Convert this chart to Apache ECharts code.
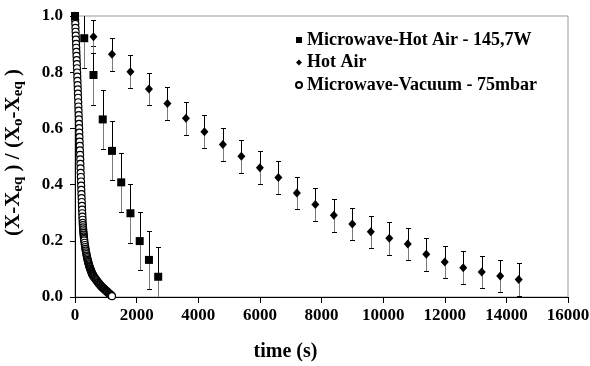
<!DOCTYPE html>
<html>
<head>
<meta charset="utf-8">
<script src="https://cdn.jsdelivr.net/npm/echarts@6/dist/echarts.min.js"></script>
<style>
html,body{margin:0;padding:0;background:#fff;}
#chart{width:590px;height:366px;}
</style>
</head>
<body>
<div id="chart"></div>
<script>
// ---- Data ----
var seriesNames = ['Microwave-Hot Air - 145,7W', 'Hot Air', 'Microwave-Vacuum - 75mbar'];

// Microwave-Hot Air - 145,7W (squares)
var mhaTime = [0, 300, 600, 900, 1200, 1500, 1800, 2100, 2400, 2700];
var mhaValue = [1.000, 0.921, 0.790, 0.632, 0.520, 0.408, 0.298, 0.199, 0.132, 0.072];
var mhaErr = [0, 0.107, 0.105, 0.105, 0.105, 0.105, 0.105, 0.104, 0.104, 0.105];

// Hot Air (diamonds)
var haTime = [0, 600, 1200, 1800, 2400, 3000, 3600, 4200, 4800, 5400, 6000, 6600, 7200, 7800,
  8400, 9000, 9600, 10200, 10800, 11400, 12000, 12600, 13200, 13800, 14400];
var haValue = [1.000, 0.926, 0.864, 0.802, 0.740, 0.689, 0.636, 0.588, 0.543, 0.501, 0.460, 0.425,
  0.370, 0.329, 0.291, 0.260, 0.232, 0.209, 0.189, 0.152, 0.125, 0.104, 0.089, 0.075, 0.062];
var haErr = [0, 0.058, 0.058, 0.058, 0.058, 0.058, 0.058, 0.058, 0.058, 0.058, 0.058, 0.058,
  0.058, 0.058, 0.058, 0.058, 0.058, 0.058, 0.058, 0.058, 0.058, 0.058, 0.058, 0.058, 0.058];

// Microwave-Vacuum - 75mbar (open circles)
var mvTime = [0,5,10,15,20,25,30,35,40,45,50,55,60,65,70,75,80,85,90,95,100,105,110,115,120,125,130,135,140,145,
  150,155,160,165,170,175,180,185,190,195,200,205,210,215,220,225,230,235,240,245,250,255,260,265,270,275,280,285,290,295,300,
  310,320,330,340,350,360,370,380,390,400,410,420,430,440,450,460,470,480,490,500,510,520,530,540,550,560,570,580,590,600,
  620,640,660,680,700,720,740,760,780,800,820,840,860,880,900,920,940,960,980,1000,1020,1040,1060,1080,1100,1120,1140,1160,1180,1200];
var mvValue = [1.000,0.986,0.972,0.958,0.944,0.930,0.916,0.901,0.887,0.872,0.858,0.843,0.829,0.814,0.799,0.784,0.769,0.754,0.739,0.724,
  0.709,0.693,0.678,0.663,0.647,0.632,0.616,0.601,0.585,0.569,0.553,0.538,0.522,0.506,0.490,0.474,0.458,0.442,0.427,0.411,
  0.396,0.381,0.366,0.352,0.338,0.324,0.311,0.298,0.286,0.275,0.264,0.256,0.248,0.241,0.234,0.228,0.222,0.216,0.211,0.206,0.201,
  0.193,0.185,0.178,0.171,0.165,0.159,0.153,0.147,0.142,0.137,0.132,0.128,0.124,0.120,0.116,0.112,0.108,0.105,0.102,0.099,
  0.096,0.093,0.090,0.087,0.084,0.082,0.080,0.078,0.076,0.074,
  0.071,0.068,0.065,0.062,0.059,0.056,0.053,0.050,0.047,0.045,0.042,0.040,0.037,0.035,0.033,0.031,0.029,0.027,0.025,0.023,
  0.021,0.019,0.017,0.015,0.013,0.011,0.009,0.007,0.005,0.003];

var xTicks = {min: 0, max: 16000, interval: 2000};
var yTicks = {min: 0, max: 1, interval: 0.2};

// ---- Build ----
function zip(a, b, c) {
  var out = [];
  for (var i = 0; i < a.length; i++) out.push(c ? [a[i], b[i], c[i]] : [a[i], b[i]]);
  return out;
}
function errRender(params, api) {
  var x = api.value(0), y = api.value(1), e = api.value(2);
  if (!e) return null;
  var c = api.coord([x, y]);
  var t = api.coord([x, y + e]);
  var b = api.coord([x, y - e]);
  var px = Math.round(c[0]) + 0.5;
  var ty = Math.round(t[1]) + 0.5, by = Math.round(b[1]) + 0.5, cy = c[1];
  var hw = 2.5;
  return {
    type: 'group',
    children: [
      {type: 'line', shape: {x1: px, y1: ty, x2: px, y2: cy}, style: {stroke: '#000', lineWidth: 1}},
      {type: 'line', shape: {x1: px, y1: cy, x2: px, y2: by}, style: {stroke: '#7a7a7a', lineWidth: 1}},
      {type: 'line', shape: {x1: px - hw, y1: ty, x2: px + hw, y2: ty}, style: {stroke: '#000', lineWidth: 1}},
      {type: 'line', shape: {x1: px - hw, y1: by, x2: px + hw, y2: by}, style: {stroke: '#000', lineWidth: 1}}
    ]
  };
}

var serif = '"Liberation Serif", "DejaVu Serif", serif';
var chart = echarts.init(document.getElementById('chart'), null, {renderer: 'canvas'});
chart.setOption({
  animation: false,
  backgroundColor: '#fff',
  grid: {left: 75, right: 22, top: 16, bottom: 69, show: true, borderColor: '#999', borderWidth: 1,
    containLabel: false, outerBoundsMode: 'none'},
  legend: {
    orient: 'vertical', left: 290, top: 26,
    itemWidth: 6, itemHeight: 6, itemGap: 4.5,
    data: seriesNames,
    textStyle: {fontFamily: serif, fontWeight: 'bold', fontSize: 18, lineHeight: 18, color: '#000'}
  },
  xAxis: {
    type: 'value', min: xTicks.min, max: xTicks.max, interval: xTicks.interval,
    name: 'time (s)', nameLocation: 'middle', nameGap: 45,
    nameTextStyle: {fontFamily: serif, fontWeight: 'bold', fontSize: 20, color: '#000', padding: [0, 72, 0, 0]},
    axisLine: {lineStyle: {color: '#000', width: 1}},
    axisTick: {show: true, length: 6, lineStyle: {color: '#000'}},
    axisLabel: {fontFamily: serif, fontWeight: 'bold', fontSize: 17, color: '#000', margin: 10,
      formatter: function (v) { return String(v); }},
    splitLine: {show: false}
  },
  yAxis: {
    type: 'value', min: yTicks.min, max: yTicks.max, interval: yTicks.interval,
    name: '{n|(X-X}{s|eq}{n| ) / (X}{s|o}{n|-X}{s|eq}{n| )}', nameLocation: 'middle', nameGap: 49, nameRotate: 90,
    nameTextStyle: {
      fontFamily: serif, fontWeight: 'bold', fontSize: 21, color: '#000', padding: [0, 0, 0, 8],
      rich: {
        n: {fontFamily: serif, fontWeight: 'bold', fontSize: 21, color: '#000', lineHeight: 24, verticalAlign: 'middle'},
        s: {fontFamily: serif, fontWeight: 'bold', fontSize: 15, color: '#000', lineHeight: 24, verticalAlign: 'bottom', padding: [8, 0, 0, 0]}
      }
    },
    axisLine: {show: true, lineStyle: {color: '#000', width: 1}},
    axisTick: {show: true, length: 5, lineStyle: {color: '#000'}},
    axisLabel: {fontFamily: serif, fontWeight: 'bold', fontSize: 17, color: '#000', margin: 12,
      formatter: function (v) { return v.toFixed(1); }},
    splitLine: {show: false}
  },
  series: [
    {type: 'custom', name: 'errMHA', renderItem: errRender, data: zip(mhaTime, mhaValue, mhaErr),
      encode: {x: 0, y: 1}, clip: true, z: 2, silent: true},
    {type: 'custom', name: 'errHA', renderItem: errRender, data: zip(haTime, haValue, haErr),
      encode: {x: 0, y: 1}, clip: true, z: 2, silent: true},
    {type: 'scatter', name: seriesNames[2], data: zip(mvTime, mvValue), symbol: 'circle', symbolSize: 7,
      itemStyle: {color: '#fff', borderColor: '#000', borderWidth: 1.2, opacity: 1}, z: 3},
    {type: 'scatter', name: seriesNames[0], data: zip(mhaTime, mhaValue), symbol: 'rect', symbolSize: 8,
      itemStyle: {color: '#000', opacity: 1}, z: 4},
    {type: 'scatter', name: seriesNames[1], data: zip(haTime, haValue), symbol: 'diamond', symbolSize: [8, 9],
      itemStyle: {color: '#000', opacity: 1}, z: 4}
  ]
});
</script>
</body>
</html>
